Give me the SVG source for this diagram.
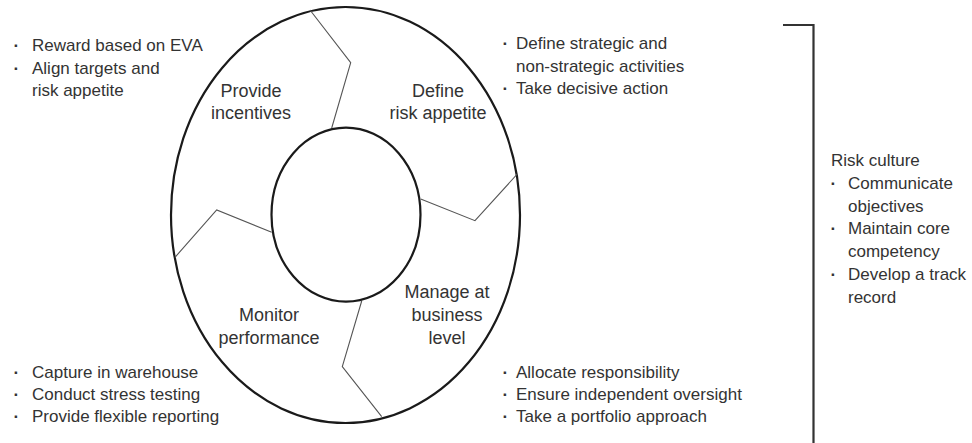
<svg xmlns="http://www.w3.org/2000/svg" width="972" height="443" viewBox="0 0 972 443">
<style>
  text { font-family: "Liberation Sans", Arial, sans-serif; fill: #333; }
  .b { font-size: 17px; }
  .d { font-size: 17px; font-weight: bold; }
  .lbl { font-size: 18px; text-anchor: middle; }
  .ring { fill: none; stroke: #1a1a1a; stroke-width: 2.2; }
  .div { fill: none; stroke: #555; stroke-width: 1.1; }
  .br { fill: none; stroke: #333; stroke-width: 2.2; }
</style>
<rect width="972" height="443" fill="#fff"/>
<g id="cycle">
  <ellipse class="ring" cx="345.5" cy="215" rx="174.5" ry="208"/>
  <ellipse class="ring" cx="346" cy="214.7" rx="74.5" ry="87"/>
</g>
<g id="connectors">
  <polyline class="div" points="310,10 350.7,62.7 331.7,128"/>
  <polyline class="div" points="517.3,174 475,220.7 420.7,199"/>
  <polyline class="div" points="361.7,301 342.3,366.7 381.7,416.7"/>
  <polyline class="div" points="271.7,232.3 216.7,210 175,257.3"/>
</g>
<g id="provide-incentives">
  <text class="lbl" x="251" y="97">Provide</text>
  <text class="lbl" x="251" y="119">incentives</text>
</g>
<g id="define-risk-appetite">
  <text class="lbl" x="438" y="97">Define</text>
  <text class="lbl" x="438" y="119">risk appetite</text>
</g>
<g id="manage-business-level">
  <text class="lbl" x="447" y="298">Manage at</text>
  <text class="lbl" x="447" y="321">business</text>
  <text class="lbl" x="447" y="344">level</text>
</g>
<g id="monitor-performance">
  <text class="lbl" x="269" y="321">Monitor</text>
  <text class="lbl" x="269" y="344">performance</text>
</g>
<g id="notes-incentives">
  <text class="d" x="13.5" y="51">·</text><text class="b" x="32" y="51">Reward based on EVA</text>
  <text class="d" x="13.5" y="73.5">·</text><text class="b" x="32" y="73.5">Align targets and</text>
  <text class="b" x="32" y="96">risk appetite</text>
</g>
<g id="notes-risk-appetite">
  <text class="d" x="502.5" y="49">·</text><text class="b" x="516" y="49">Define strategic and</text>
  <text class="b" x="516" y="71.5">non-strategic activities</text>
  <text class="d" x="502.5" y="94">·</text><text class="b" x="516" y="94">Take decisive action</text>
</g>
<g id="notes-monitor">
  <text class="d" x="13.5" y="378">·</text><text class="b" x="32" y="378">Capture in warehouse</text>
  <text class="d" x="13.5" y="400">·</text><text class="b" x="32" y="400">Conduct stress testing</text>
  <text class="d" x="13.5" y="422">·</text><text class="b" x="32" y="422">Provide flexible reporting</text>
</g>
<g id="notes-manage">
  <text class="d" x="502.5" y="378">·</text><text class="b" x="516" y="378">Allocate responsibility</text>
  <text class="d" x="502.5" y="400">·</text><text class="b" x="516" y="400">Ensure independent oversight</text>
  <text class="d" x="502.5" y="422">·</text><text class="b" x="516" y="422">Take a portfolio approach</text>
</g>
<g id="risk-culture">
  <path class="br" d="M783,25 H813.5 V443"/>
  <text class="b" x="831" y="166">Risk culture</text>
  <text class="d" x="830.5" y="188.8">·</text><text class="b" x="848" y="188.8">Communicate</text>
  <text class="b" x="848" y="211.6">objectives</text>
  <text class="d" x="830.5" y="234.4">·</text><text class="b" x="848" y="234.4">Maintain core</text>
  <text class="b" x="848" y="257.2">competency</text>
  <text class="d" x="830.5" y="280">·</text><text class="b" x="848" y="280">Develop a track</text>
  <text class="b" x="848" y="302.8">record</text>
</g>
</svg>
